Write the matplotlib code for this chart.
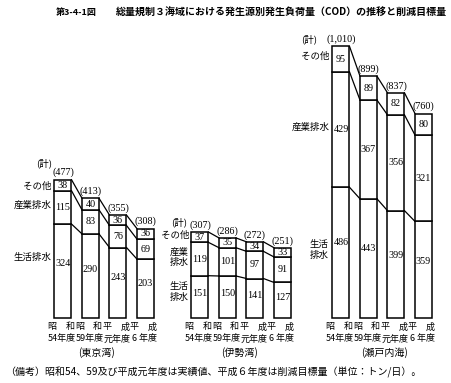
import matplotlib
matplotlib.use('Agg')
import matplotlib.pyplot as plt

plt.rcParams['font.family'] = ['Noto Sans CJK JP', 'DejaVu Sans']
NUM = ['Liberation Serif', 'Noto Sans CJK JP']

# data (トン/日)
year_top = [('昭', '和'), ('昭', '和'), ('平', '成'), ('平', '成')]
year_bottom = ['54年度', '59年度', '元年度', '6 年度']

tokyo_seikatsu = [324, 290, 243, 203]
tokyo_sangyo = [115, 83, 76, 69]
tokyo_sonota = [38, 40, 36, 36]

ise_seikatsu = [151, 150, 141, 127]
ise_sangyo = [119, 101, 97, 91]
ise_sonota = [37, 35, 34, 33]

seto_seikatsu = [486, 443, 399, 359]
seto_sangyo = [429, 367, 356, 321]
seto_sonota = [95, 89, 82, 80]

W, H = 452, 383
STEP = 27.5
BW = 17

fig = plt.figure(figsize=(W / 100, H / 100), dpi=100)
fig.patch.set_facecolor('white')

# text layer in pixel coords
tax = fig.add_axes([0, 0, 1, 1])
tax.set_xlim(0, W)
tax.set_ylim(H, 0)
tax.axis('off')


def panel(x0, scale, base, seikatsu, sangyo, sonota):
    ax = fig.add_axes([0, 0, 1, 1])
    ax.set_xlim(0, W)
    ax.set_ylim(-(H - base) / scale, base / scale)
    ax.axis('off')
    x = [x0 + i * STEP for i in range(len(seikatsu))]
    mid = [a + b for a, b in zip(seikatsu, sangyo)]
    tot = [a + b for a, b in zip(mid, sonota)]
    kw = dict(width=BW, color='white', edgecolor='black', linewidth=1.1)
    ax.bar(x, seikatsu, **kw)
    ax.bar(x, sangyo, bottom=seikatsu, **kw)
    ax.bar(x, sonota, bottom=mid, **kw)
    # connectors between bars
    for lev in (seikatsu, mid, tot):
        for i in range(len(x) - 1):
            ax.plot([x[i] + BW / 2, x[i + 1] - BW / 2], [lev[i], lev[i + 1]],
                    color='black', lw=0.9)
    for i in range(len(x)):
        ax.text(x[i], seikatsu[i] * 0.58, str(seikatsu[i]), ha='center',
                va='center', fontsize=7.3, family=NUM)
        ax.text(x[i], seikatsu[i] + sangyo[i] / 2, str(sangyo[i]), ha='center',
                va='center', fontsize=7.3, family=NUM)
        ax.text(x[i], mid[i] + sonota[i] / 2, str(sonota[i]), ha='center',
                va='center', fontsize=7.3, family=NUM)
        ax.text(x[i], tot[i] + 7 / scale, f'({tot[i]:,})', ha='center',
                va='center', fontsize=7.3, family=NUM)
        # year labels
        tax.text(x[i] - 11, base + 9, year_top[i][0], ha='center', va='center', fontsize=6.5)
        tax.text(x[i] + 7, base + 9, year_top[i][1], ha='center', va='center', fontsize=6.5)
        tax.text(x[i] - 1, base + 21, year_bottom[i], ha='center', va='center', fontsize=6.5)
    return x, tot


panel(63, 0.29, 318, tokyo_seikatsu, tokyo_sangyo, tokyo_sonota)
panel(200, 0.28, 318, ise_seikatsu, ise_sangyo, ise_sonota)
panel(341, 0.269, 318, seto_seikatsu, seto_sangyo, seto_sonota)

# title
tax.text(56, 13, '第3-4-1図', ha='left', va='center', fontsize=6.5, fontweight='bold')
tax.text(116, 13, '総量規制３海域における発生源別発生負荷量（COD）の推移と削減目標量',
         ha='left', va='center', fontsize=7.2, fontweight='bold')

# series labels
fs = 6.8
tax.text(44, 163, '(計)', ha='center', va='center', fontsize=fs)
tax.text(52, 186, 'その他', ha='right', va='center', fontsize=fs)
tax.text(52, 205, '産業排水', ha='right', va='center', fontsize=fs)
tax.text(52, 257, '生活排水', ha='right', va='center', fontsize=fs)

tax.text(179, 222, '(計)', ha='center', va='center', fontsize=fs)
tax.text(190, 235, 'その他', ha='right', va='center', fontsize=fs)
tax.text(189, 257, '産業\n排水', ha='right', va='center', fontsize=fs, linespacing=1.2)
tax.text(189, 292, '生活\n排水', ha='right', va='center', fontsize=fs, linespacing=1.2)

tax.text(309, 39, '(計)', ha='center', va='center', fontsize=fs)
tax.text(330, 56, 'その他', ha='right', va='center', fontsize=fs)
tax.text(330, 127, '産業排水', ha='right', va='center', fontsize=fs)
tax.text(329, 250, '生活\n排水', ha='right', va='center', fontsize=fs, linespacing=1.2)

# panel names
tax.text(97, 353, '(東京湾)', ha='center', va='center', fontsize=7.2)
tax.text(240, 353, '(伊勢湾)', ha='center', va='center', fontsize=7.2)
tax.text(385, 353, '(瀬戸内海)', ha='center', va='center', fontsize=7.2)

tax.text(5, 372, '（備考）昭和54、59及び平成元年度は実績値、平成６年度は削減目標量（単位：トン/日）。',
         ha='left', va='center', fontsize=7.2)

fig.savefig('out.png', dpi=100, facecolor='white')
